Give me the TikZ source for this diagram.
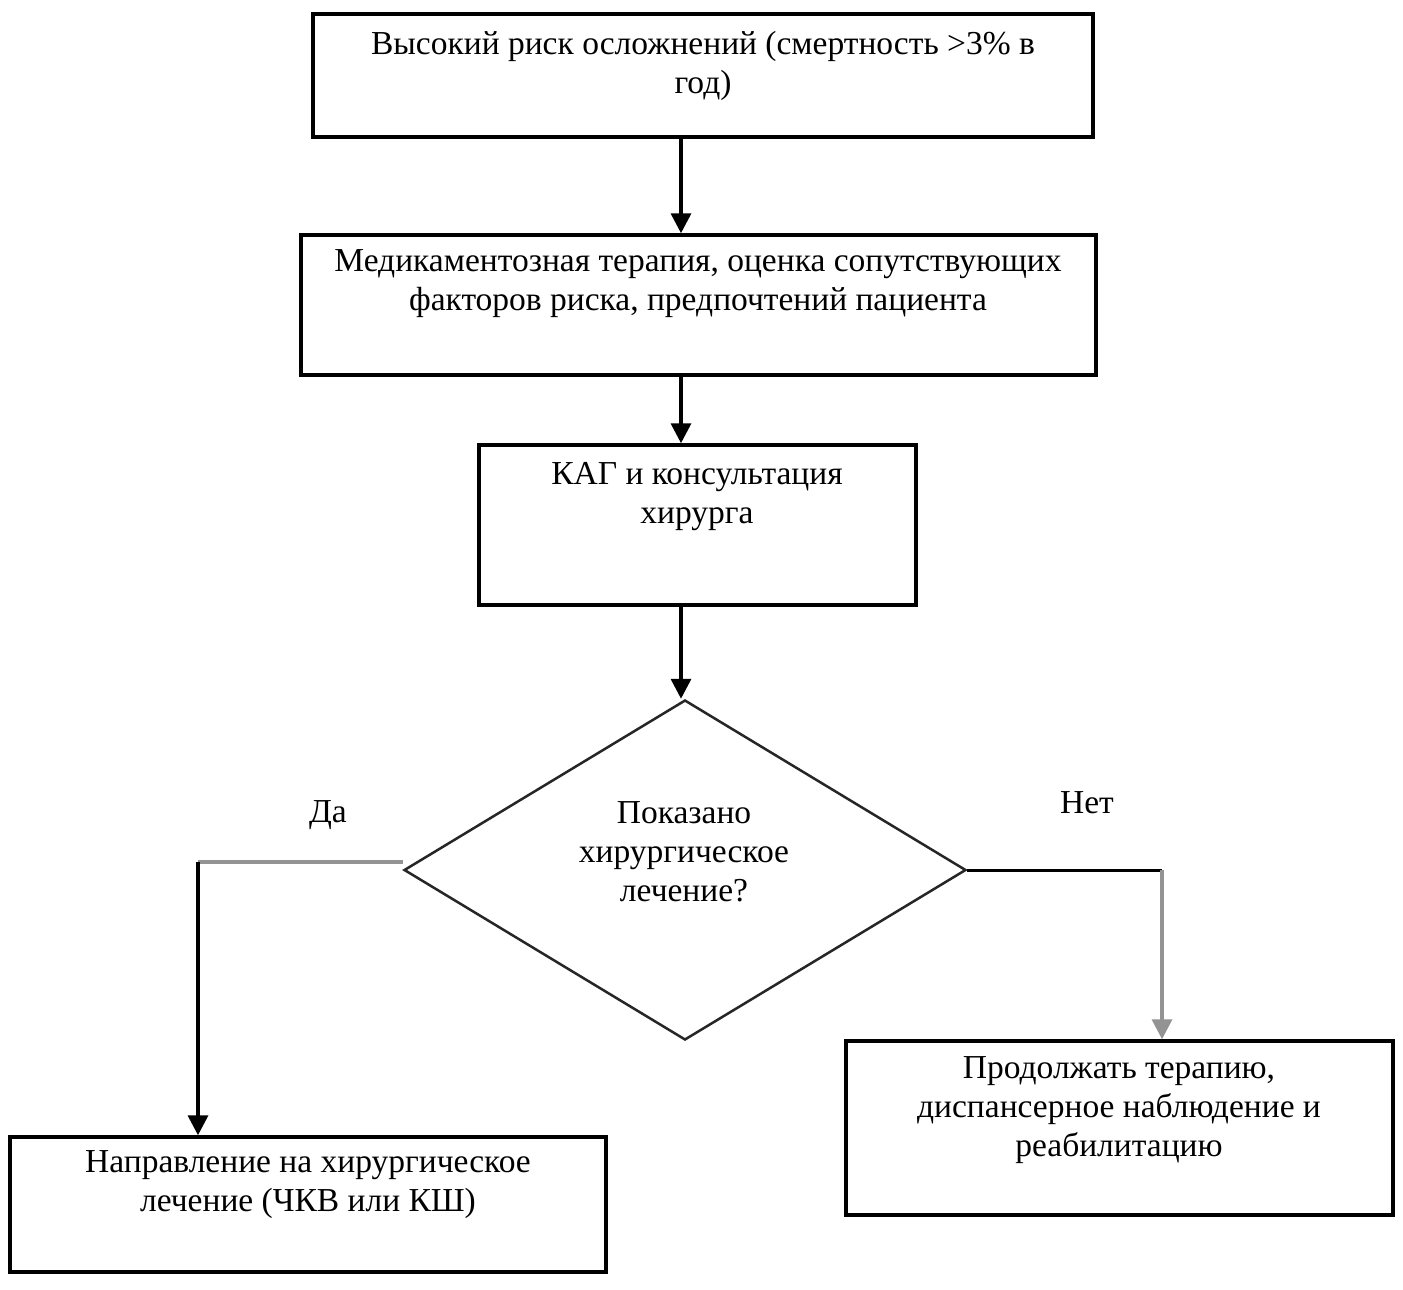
\documentclass[tikz,border=0pt]{standalone}
\usepackage{fontspec}
\setmainfont{Liberation Serif}
\usetikzlibrary{arrows.meta,shapes.geometric}
\begin{document}
\begin{tikzpicture}[x=1pt,y=-1pt,
  box/.style={draw=black,line width=3.5pt,inner sep=0pt},
  txt/.style={align=center,inner sep=0pt,font=\fontsize{33.5}{39}\selectfont},
  conn/.style={draw=black,line width=3.5pt},
  arr/.style={conn,-{Triangle[width=20pt,length=20pt]}},
  graycon/.style={draw=gray!85,line width=4.5pt}]
\useasboundingbox[fill=white] (0,0) rectangle (1403,1290);
% boxes
\node[box,minimum width=780pt,minimum height=123pt] (b1) at (703,75.5) {};
\node[box,minimum width=795pt,minimum height=140pt] (b2) at (698.5,305) {};
\node[box,minimum width=437pt,minimum height=160pt] (b3) at (697.5,525) {};
\node[draw=black!85,line width=2.5pt,diamond,inner sep=0pt,aspect=1.653,minimum width=562pt,minimum height=340pt] (d) at (685,870) {};
\node[box,minimum width=596pt,minimum height=135pt] (lb) at (308,1204.5) {};
\node[box,minimum width=547pt,minimum height=174pt] (rb) at (1119.5,1128) {};
% texts
\node[txt] (t1) at (703,66) {Высокий риск осложнений (смертность >3\% в\\год)};
\node[txt] (t2) at (698,284) {Медикаментозная терапия, оценка сопутствующих\\факторов риска, предпочтений пациента};
\node[txt] (t3) at (697,497) {КАГ и консультация\\хирурга};
\node[txt] (t4) at (684,852) {Показано\\хирургическое\\лечение?};
\node[txt] (t5) at (308,1185) {Направление на хирургическое\\лечение (ЧКВ или КШ)};
\node[txt] (t6) at (1119,1110) {Продолжать терапию,\\диспансерное наблюдение и\\реабилитацию};
\node[txt] (yes) at (328,815) {Да};
\node[txt] (no) at (1087,803) {Нет};
% connectors
\coordinate (ax) at (681,0);
\coordinate (yc) at (198,862);
\coordinate (nc) at (1162,870);
\draw[arr] (b1.south -| ax) -- (b2.north -| ax);
\draw[arr] (b2.south -| ax) -- (b3.north -| ax);
\draw[arr] (b3.south -| ax) -- (d.north -| ax);
\draw[graycon] (d.west |- yc) -- (yc);
\draw[arr] (yc) -- (lb.north -| yc);
\draw[conn,line width=3pt] (d.east) -- (nc);
\draw[graycon,line width=3.5pt,-{Triangle[width=20pt,length=20pt]}] (nc) -- (rb.north -| nc);
\end{tikzpicture}
\end{document}
